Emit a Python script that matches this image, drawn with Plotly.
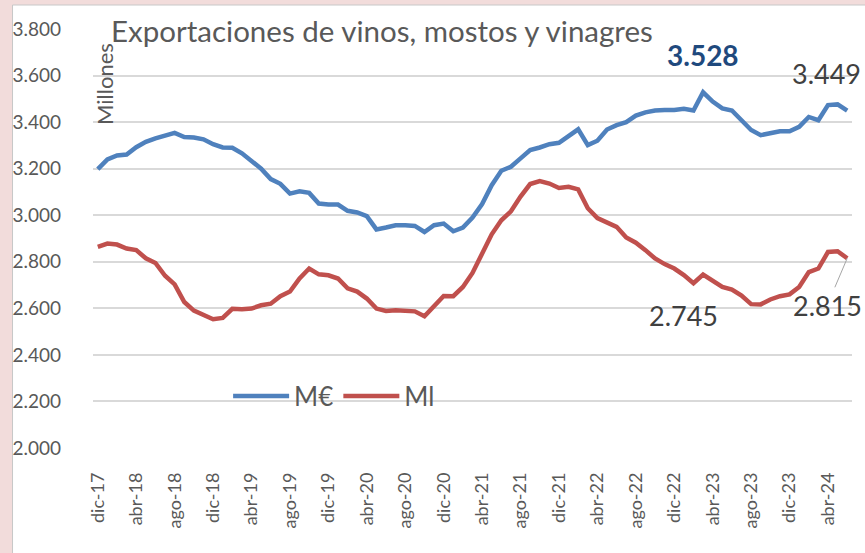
import plotly.graph_objects as go

months = ["ene", "feb", "mar", "abr", "may", "jun", "jul", "ago", "sep", "oct", "nov", "dic"]
# monthly periods dic-17 .. jun-24
periods = ["dic-17"] + [f"{m}-{y}" for y in range(18, 25) for m in months]
periods = periods[:79]

m_eur = [3198, 3240, 3257, 3261, 3292, 3315, 3330, 3340, 3354, 3336,
         3334, 3326, 3305, 3291, 3290, 3266, 3234, 3200, 3155, 3135,
         3093, 3103, 3096, 3050, 3046, 3046, 3019, 3012, 2996, 2939,
         2947, 2957, 2957, 2954, 2928, 2957, 2964, 2931, 2947, 2990,
         3048, 3129, 3191, 3208, 3244, 3280, 3291, 3305, 3311, 3340,
         3369, 3301, 3320, 3368, 3387, 3400, 3428, 3442, 3450, 3452,
         3452, 3457, 3450, 3528, 3488, 3459, 3450, 3408, 3366, 3344,
         3351, 3361, 3361, 3380, 3422, 3408, 3473, 3476, 3449]

m_l = [2864, 2878, 2874, 2857, 2850, 2815, 2795, 2740, 2703, 2627,
       2590, 2570, 2553, 2559, 2598, 2596, 2599, 2613, 2620, 2652,
       2672, 2728, 2771, 2746, 2742, 2728, 2686, 2672, 2642, 2599,
       2589, 2592, 2589, 2587, 2566, 2613, 2653, 2652, 2692, 2752,
       2840, 2918, 2978, 3017, 3080, 3134, 3147, 3136, 3117, 3122,
       3111, 3030, 2988, 2971, 2950, 2904, 2882, 2850, 2814, 2790,
       2771, 2743, 2708, 2745, 2720, 2692, 2681, 2655, 2618, 2617,
       2638, 2652, 2660, 2692, 2756, 2771, 2842, 2845, 2815]

tick_idx = list(range(0, 79, 4))
tick_text = [periods[i] for i in tick_idx]
y_ticks = [2000, 2200, 2400, 2600, 2800, 3000, 3200, 3400, 3600, 3800]
y_text = [f"{v // 1000}.{v % 1000:03d}" for v in y_ticks]

x = list(range(len(periods)))
FONT = "Lato"
GREY = "#595959"

fig = go.Figure()
fig.add_trace(go.Scatter(x=x, y=m_eur, mode="lines", name="M€",
                         line=dict(color="#4f81bd", width=4.5)))
fig.add_trace(go.Scatter(x=x, y=m_l, mode="lines", name="Ml",
                         line=dict(color="#c0504d", width=4.5)))

L, R, T, B = 88, 13, 29, 105
W, H = 865, 553
pw, ph = W - L - R, H - T - B
def px(xp):
    return (xp - L) / pw
def py(yp):
    return (H - B - yp) / ph

# pink frame + white chart area
fig.add_shape(type="rect", xref="paper", yref="paper",
              x0=px(7), x1=px(875), y0=py(565), y1=py(5),
              fillcolor="white", line=dict(color="#c8c8c8", width=1), layer="below")

i_peak = m_eur.index(max(m_eur))
last = len(periods) - 1
def fmt(v):
    return f"{v // 1000}.{v % 1000:03d}"

anns = [
    dict(x=i_peak, y=m_eur[i_peak], text=f"<b>{fmt(m_eur[i_peak])}</b>", showarrow=False,
         yshift=37, font=dict(size=28, color="#1f497d", family=FONT)),
    dict(x=last, y=m_eur[last], text=fmt(m_eur[last]), showarrow=False,
         xshift=-21, yshift=37, font=dict(size=27, color="#404040", family=FONT)),
    dict(x=i_peak, y=m_l[i_peak], text=fmt(m_l[i_peak]), showarrow=False,
         xshift=-20, yshift=-41, font=dict(size=27, color="#404040", family=FONT)),
    dict(x=last, y=m_l[last], text=fmt(m_l[last]), showarrow=True, arrowhead=0,
         arrowcolor="#a6a6a6", arrowwidth=1, ax=-20, ay=47, standoff=0,
         font=dict(size=27, color="#404040", family=FONT)),
    dict(xref="paper", yref="paper", x=px(104), y=py(30), xanchor="left", yanchor="middle",
         text="Exportaciones de vinos, mostos y vinagres", showarrow=False,
         font=dict(size=29.5, color=GREY, family=FONT)),
    dict(xref="paper", yref="paper", x=px(100), y=py(84), xanchor="center", yanchor="middle",
         text="Millones", textangle=-90, showarrow=False,
         font=dict(size=22, color=GREY, family=FONT)),
]

fig.update_layout(
    width=W, height=H,
    margin=dict(l=L, r=R, t=T, b=B),
    paper_bgcolor="#f2dcdb",
    plot_bgcolor="rgba(0,0,0,0)",
    font=dict(family=FONT, color=GREY, size=18),
    showlegend=True,
    legend=dict(orientation="h", x=px(224), y=py(396), xanchor="left", yanchor="middle",
                bgcolor="rgba(0,0,0,0)", font=dict(size=26, color=GREY, family=FONT),
                itemwidth=56, tracegroupgap=0),
    annotations=anns,
    xaxis=dict(range=[-0.5, 78.5], tickmode="array", tickvals=tick_idx, ticktext=tick_text,
               tickangle=-90, showgrid=False, zeroline=False, showline=False,
               ticks="", ticklabelstandoff=20, tickfont=dict(size=18, color=GREY)),
    yaxis=dict(range=[2000, 3800], tickmode="array", tickvals=y_ticks, ticktext=y_text,
               showgrid=True, gridcolor="#d9d9d9", gridwidth=1.5, zeroline=False,
               showline=False, ticks="", ticklabelstandoff=31,
               tickfont=dict(size=19, color=GREY)),
)

fig.write_html("out.html", config={"displayModeBar": False},
               post_script="document.body.style.margin='0';")
